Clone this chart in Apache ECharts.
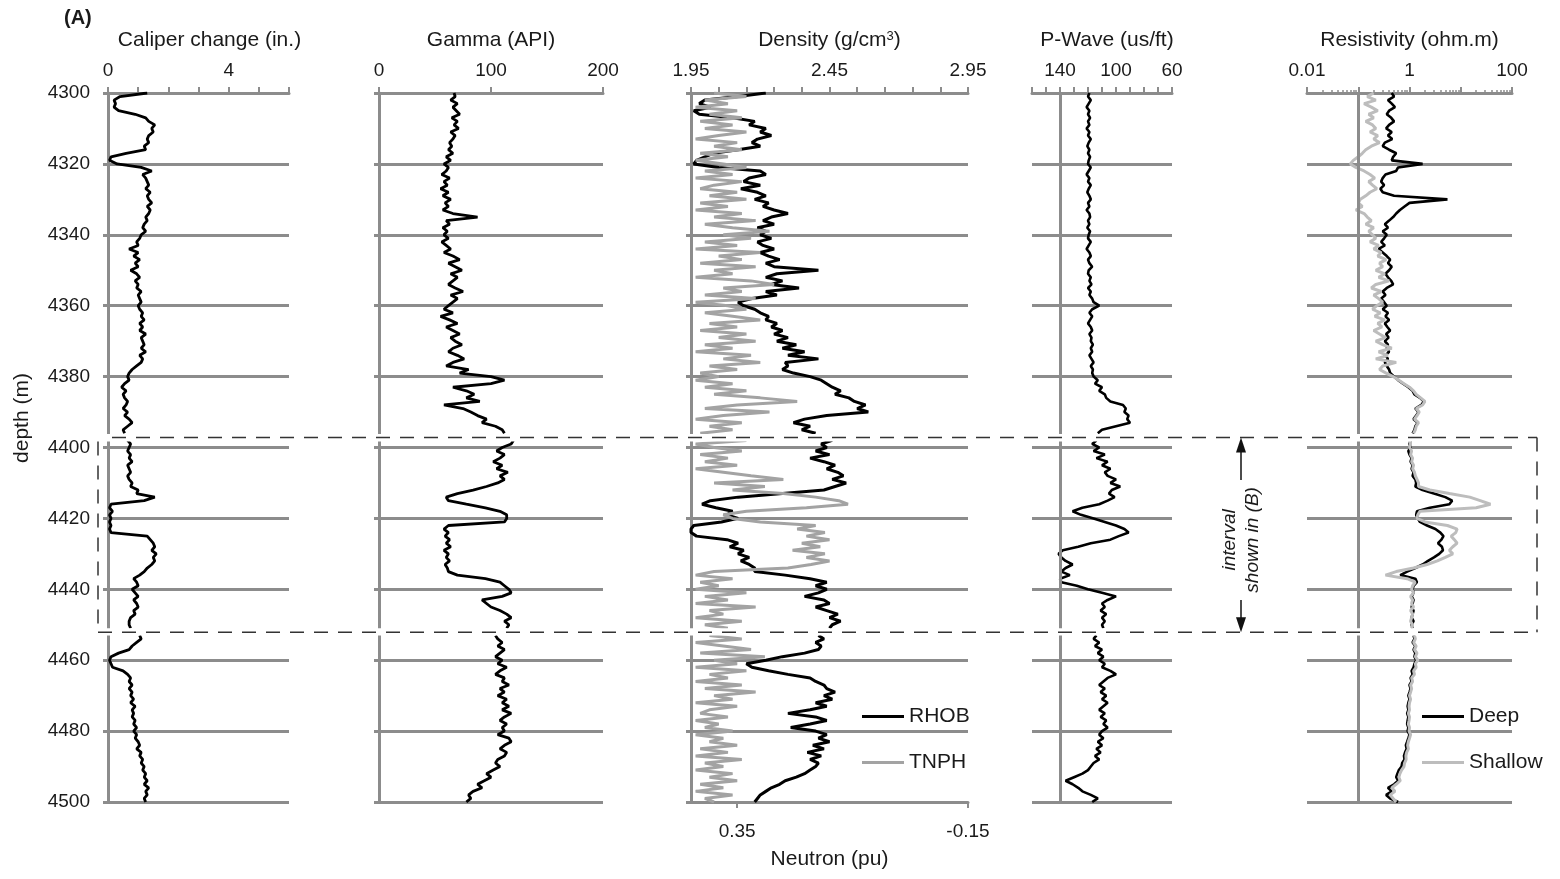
<!DOCTYPE html>
<html><head><meta charset="utf-8">
<script src="https://cdn.jsdelivr.net/npm/echarts@6/dist/echarts.min.js"></script>
<style>html,body{margin:0;padding:0;background:#fff}#c{width:1560px;height:879px}</style>
</head><body><div id="c"></div>
<script>
// ---------------- DATA ----------------
const DEPTH_TOP = 4300;   // first sample depth (m)
const DEPTH_STEP = 1;     // sample spacing (m)
const INTERVAL_TOP = 4397.2, INTERVAL_BOTTOM = 4452.1;  // interval shown in (B)
const GAPS = [[4396.2, 4398.3], [4451.0, 4453.0]];      // panel breaks

const caliper = [
1.3,0.4,0.2,0.25,0.2,0.35,0.9,1.25,1.35,1.55,
1.45,1.5,1.35,1.3,1.35,1.2,1.25,0.6,0.1,0.05,
0.3,1.1,1.45,1.15,1.25,1.3,1.35,1.25,1.4,1.3,
1.35,1.45,1.3,1.4,1.35,1.25,1.3,1.2,1.15,1.25,
1.1,1.05,0.95,1.0,0.7,1.0,0.85,1.05,0.9,1.0,
0.75,0.95,1.05,0.9,1.0,0.95,1.1,1.0,1.05,1.1,
1.0,1.05,1.15,1.1,1.2,1.05,1.15,1.05,1.25,1.1,
1.15,1.2,1.1,1.25,1.05,1.15,1.1,0.95,0.8,0.7,
0.65,0.7,0.55,0.45,0.6,0.5,0.55,0.65,0.6,0.5,
0.65,0.55,0.7,0.8,0.65,0.5,0.55,null,0.65,0.75,
0.7,0.65,0.75,0.7,0.8,0.65,0.7,0.75,0.65,0.7,
0.8,0.75,1.0,0.95,1.55,1.2,0.1,0.05,0.15,0.05,
0.1,0.05,0.1,0.05,0.1,1.3,1.4,1.5,1.55,1.45,
1.6,1.5,1.55,1.45,1.3,1.2,1.05,0.85,0.95,1.0,
0.8,0.9,1.0,0.85,0.95,1.0,0.85,0.9,0.75,0.7,
0.7,0.75,null,1.05,1.1,0.95,0.8,0.7,0.35,0.1,
0.05,0.1,0.15,0.5,0.65,0.75,0.7,0.8,0.7,0.8,
0.75,0.85,0.75,0.9,0.8,0.85,0.8,0.9,0.85,0.95,
0.85,0.95,0.9,1.0,1.05,0.95,1.1,1.05,1.15,1.1,
1.2,1.15,1.25,1.2,1.3,1.2,1.35,1.25,1.3,1.2,
1.25];

const gamma = [
67,68,64,70,66,69,72,65,70,67,
71,64,68,66,63,65,62,66,60,64,
58,62,60,56,63,58,61,55,62,57,
64,59,62,57,66,88,60,63,57,61,
58,62,56,60,64,58,66,72,62,68,
74,64,70,66,62,68,75,64,70,66,
62,58,66,55,63,70,60,66,72,64,
68,74,66,62,70,76,66,60,80,72,
100,112,100,66,78,85,78,90,58,75,
82,88,96,92,104,110,112,null,120,118,
110,105,112,108,102,110,105,115,108,112,
106,96,84,70,60,62,78,95,108,114,
114,112,62,58,62,59,63,60,64,58,
62,60,63,59,61,62,70,95,108,112,
116,118,110,92,96,100,108,114,118,112,
116,114,null,104,106,110,106,112,108,104,
110,106,114,108,104,112,110,116,108,112,
106,114,110,116,110,118,112,108,114,110,
112,106,116,118,112,108,114,112,106,104,
108,102,96,100,94,88,92,84,80,82,
78];

const rhob = [
2.22,2.12,2.00,1.98,2.02,1.96,1.98,2.10,2.18,2.16,
2.22,2.20,2.24,2.19,2.17,2.20,2.12,2.03,2.00,1.97,
1.96,2.05,2.20,2.22,2.16,2.14,2.20,2.13,2.19,2.22,
2.18,2.23,2.21,2.25,2.30,2.24,2.21,2.25,2.19,2.22,
2.20,2.24,2.19,2.21,2.25,2.20,2.23,2.27,2.22,2.25,
2.41,2.26,2.22,2.28,2.24,2.34,2.22,2.26,2.17,2.12,
2.14,2.18,2.20,2.23,2.22,2.26,2.24,2.28,2.25,2.30,
2.26,2.33,2.28,2.36,2.30,2.41,2.29,2.30,2.28,2.32,
2.38,2.42,2.44,2.46,2.49,2.47,2.52,2.54,2.58,2.55,
2.59,2.44,2.36,2.32,2.38,2.35,2.40,null,2.46,2.42,
2.44,2.40,2.45,2.38,2.43,2.47,2.44,2.48,2.50,2.46,
2.51,2.47,2.43,2.28,2.12,2.02,1.99,2.04,2.10,2.08,
2.12,2.06,1.96,1.95,1.95,1.97,2.08,2.12,2.09,2.14,
2.12,2.16,2.13,2.16,2.18,2.18,2.29,2.38,2.44,2.40,
2.44,2.41,2.36,2.43,2.45,2.40,2.44,2.48,2.45,2.49,
2.46,2.45,null,2.41,2.43,2.40,2.42,2.41,2.36,2.28,
2.22,2.15,2.17,2.23,2.30,2.38,2.40,2.43,2.44,2.47,
2.43,2.46,2.40,2.44,2.38,2.30,2.40,2.44,2.38,2.31,
2.40,2.44,2.41,2.45,2.39,2.43,2.37,2.42,2.38,2.41,
2.40,2.38,2.36,2.33,2.29,2.27,2.24,2.22,2.20,2.19,
2.18];

const tnph = [
0.40,0.33,0.42,0.37,0.44,0.35,0.41,0.34,0.43,0.36,
0.42,0.33,0.39,0.44,0.35,0.40,0.34,0.43,0.37,0.44,
0.38,0.33,0.42,0.36,0.44,0.34,0.40,0.43,0.35,0.41,
0.33,0.43,0.37,0.44,0.34,0.40,0.31,0.42,0.36,0.28,
0.38,0.32,0.42,0.35,0.44,0.30,0.39,0.34,0.43,0.31,
0.40,0.36,0.44,0.32,0.27,0.38,0.34,0.42,0.31,0.44,
0.37,0.33,0.42,0.36,0.30,0.41,0.35,0.43,0.33,0.39,
0.31,0.42,0.36,0.44,0.32,0.38,0.30,0.41,0.35,0.43,
0.39,0.44,0.36,0.42,0.33,0.40,0.30,0.22,0.35,0.42,
0.28,0.38,0.44,0.34,0.41,0.36,0.43,null,0.33,0.44,
0.40,0.34,0.43,0.37,0.42,0.35,0.44,0.38,0.32,0.25,
0.40,0.29,0.36,0.25,0.18,0.13,0.11,0.20,0.33,0.38,
0.36,0.30,0.18,0.22,0.16,0.20,0.15,0.21,0.17,0.23,
0.16,0.20,0.15,0.19,0.24,0.40,0.44,0.36,0.43,0.39,
0.44,0.33,0.42,0.37,0.44,0.31,0.41,0.38,0.44,0.34,
0.42,0.37,null,0.41,0.34,0.44,0.38,0.32,0.43,0.29,
0.40,0.35,0.44,0.33,0.41,0.37,0.44,0.34,0.42,0.31,
0.40,0.36,0.44,0.35,0.41,0.43,0.37,0.44,0.39,0.42,
0.36,0.44,0.38,0.41,0.35,0.43,0.37,0.44,0.34,0.42,
0.38,0.44,0.36,0.41,0.35,0.43,0.38,0.44,0.36,0.42,
0.40];

const pwave = [
119,120,118,119.5,121,119,120,118.5,120,119,
121,119,120,118,119.5,120.5,119,120,118.5,119.5,
120,118,119.5,121,119,120,118,119.5,120.5,119,
118,120,119,121,119,118.5,120,119,120.5,118.5,
119.5,120,118,119.5,121,119,118,120,119,117,
119.5,120,118,119,117.5,120,118,119,117,116,
112,117,119,117,118.5,120,118,117,119,117.5,
118,116.5,118,117,119,117.5,116,118,116.5,117,
116,113,115,110,112,108,107,104,95,93,
94,91,92,90,100,110,113,null,114,117,
112,116,108,114,106,110,104,108,106,100,
104,97,103,105,101,106,112,124,131,125,
116,108,100,94,91,98,104,118,127,138,
141,139,136,131,136,139,133,140,139,128,
120,110,100,106,110,108,111,107,110,108,
110,109,null,114,116,112,115,110,113,109,
112,108,110,104,100,106,109,112,108,111,
107,110,106,109,112,108,111,107,109,106,
110,112,109,113,110,114,111,115,112,116,
118,120,124,130,136,131,127,124,118,113,
117];

const resDeep = [
0.45,0.50,0.38,0.45,0.52,0.40,0.36,0.44,0.50,0.40,
0.35,0.45,0.38,0.46,0.33,0.30,0.40,0.55,0.48,0.45,
1.8,0.60,0.55,0.34,0.30,0.28,0.32,0.27,0.30,0.50,
5.5,1.0,0.80,0.65,0.55,0.48,0.40,0.33,0.38,0.30,
0.36,0.32,0.28,0.33,0.25,0.30,0.36,0.42,0.38,0.45,
0.40,0.34,0.38,0.44,0.48,0.36,0.30,0.34,0.28,0.32,
0.36,0.30,0.38,0.34,0.40,0.33,0.37,0.42,0.35,0.39,
0.33,0.38,0.36,0.40,0.34,0.38,0.33,0.36,0.40,0.42,
0.50,0.60,0.75,0.95,1.15,1.25,1.6,1.9,1.7,1.3,
1.5,1.35,1.2,1.45,1.3,1.25,1.15,null,1.05,1.0,
1.05,0.95,1.0,1.1,1.05,1.15,1.1,1.2,1.15,1.3,
1.35,1.3,1.8,3.0,5.0,6.8,6.0,2.5,1.4,1.35,
1.45,1.6,2.2,3.2,4.0,4.6,4.2,3.6,4.3,4.5,
3.8,3.0,2.3,1.8,1.3,0.9,0.66,1.3,1.4,1.2,
1.15,1.2,1.1,1.2,1.15,1.1,1.2,1.15,1.1,1.2,
1.1,1.15,null,1.2,1.25,1.15,1.3,1.2,1.3,1.25,
1.35,1.25,1.2,1.1,1.15,1.05,1.1,1.0,1.05,1.0,
0.95,1.0,0.95,0.92,0.95,0.9,0.95,0.92,0.9,0.95,
0.92,1.0,0.95,0.9,0.85,0.88,0.82,0.78,0.8,0.72,
0.7,0.62,0.58,0.55,0.6,0.5,0.38,0.45,0.35,0.42,
0.6];

const resShallow = [
0.20,0.15,0.22,0.13,0.18,0.24,0.16,0.20,0.14,0.19,
0.22,0.17,0.24,0.20,0.26,0.18,0.14,0.12,0.10,0.08,
0.07,0.09,0.13,0.17,0.21,0.16,0.19,0.23,0.17,0.14,
0.11,0.10,0.12,0.09,0.13,0.15,0.18,0.14,0.20,0.16,
0.19,0.22,0.17,0.25,0.20,0.28,0.24,0.35,0.26,0.30,
0.22,0.33,0.25,0.40,0.22,0.18,0.28,0.20,0.25,0.30,
0.23,0.19,0.27,0.21,0.33,0.24,0.29,0.20,0.26,0.34,
0.22,0.30,0.45,0.25,0.38,0.22,0.55,0.30,0.26,0.35,
0.48,0.62,0.78,1.0,1.2,1.35,1.65,2.0,1.8,1.35,
1.55,1.4,1.25,1.5,1.35,1.3,1.2,null,1.0,1.05,
1.0,1.1,1.05,1.15,1.1,1.2,1.15,1.25,1.3,1.4,
1.5,1.5,2.5,6,15,24,38,20,1.6,1.45,
1.4,2.0,5.5,8.5,8.0,6.5,7.5,8.5,7.0,6.0,
7.0,5.0,3.5,2.2,1.2,0.55,0.34,0.9,1.3,1.15,
1.1,1.2,1.05,1.15,1.1,1.2,1.05,1.15,1.1,1.05,
1.15,1.1,null,1.25,1.3,1.2,1.35,1.25,1.4,1.3,
1.45,1.3,1.35,1.2,1.25,1.1,1.15,1.05,1.1,1.05,
1.0,1.05,1.0,0.98,1.0,0.95,1.0,0.98,0.95,1.0,
0.98,1.05,1.0,0.95,0.92,0.95,0.88,0.85,0.86,0.8,
0.78,0.7,0.65,0.62,0.66,0.55,0.45,0.52,0.42,0.48,
0.55];

// axis tick / label values
const caliperLabels = [0, 4];
const caliperTicks = [0, 1, 2, 3, 4, 5, 6];
const gammaLabels = [0, 100, 200];
const densityLabels = [1.95, 2.45, 2.95];
const densityTicks = [1.95, 2.05, 2.15, 2.25, 2.35, 2.45, 2.55, 2.65, 2.75, 2.85, 2.95];
const neutronLabels = [0.35, -0.15];
const pwaveLabels = [140, 100, 60];
const pwaveTicks = [160, 150, 140, 130, 120, 110, 100, 90, 80, 70, 60];
const resLabels = [0.01, 1, 100];
const resMinorMultipliers = [2, 3, 4, 5, 6, 7, 8, 9];
const resDecades = [-2, -1, 0, 1];

// ---------------- CHART ----------------
const GREY = '#8c8c8c';
const FONT = 'Liberation Sans, Arial, Helvetica, sans-serif';
const TICK = {fontFamily: FONT, fontSize: 19, color: '#1a1a1a'};
const TITLE = {fontFamily: FONT, fontSize: 21, color: '#1a1a1a'};
const tracks = [
  {left: 108, width: 181},
  {left: 379, width: 224},
  {left: 691, width: 277},
  {left: 1032, width: 140},
  {left: 1307, width: 205}
];
const TOP = 93, BOTTOM = 77;

function pairs(vals) { return vals.map((v, i) => [v, DEPTH_TOP + i * DEPTH_STEP]); }

function topAxis(gi, o) {
  return Object.assign({
    gridIndex: gi, type: 'value', position: 'top',
    nameLocation: 'middle', nameGap: 42, nameTextStyle: TITLE,
    axisLine: {show: true, onZero: false, lineStyle: {color: GREY, width: 3}},
    splitLine: {show: false}
  }, o);
}
const tick = (vals, len) => ({show: true, inside: false, length: len || 6, customValues: vals, lineStyle: {color: GREY, width: 2}});
const lab = (vals, extra) => Object.assign({margin: 13, customValues: vals}, TICK, extra || {});

const xAxis = [
  topAxis(0, {min: 0, max: 6, name: 'Caliper change (in.)',
    nameTextStyle: Object.assign({padding: [0, 0, 0, 22]}, TITLE),
    axisTick: tick(caliperTicks), axisLabel: lab(caliperLabels)}),
  topAxis(1, {min: 0, max: 200, name: 'Gamma (API)',
    axisTick: tick(gammaLabels), axisLabel: lab(gammaLabels)}),
  topAxis(2, {min: 1.95, max: 2.95, name: 'Density (g/cm{sup|3})',
    nameTextStyle: Object.assign({rich: {sup: {fontFamily: FONT, fontSize: 13, color: '#1a1a1a', verticalAlign: 'top', lineHeight: 14}}}, TITLE),
    axisTick: tick(densityTicks), axisLabel: lab(densityLabels, {formatter: v => (+v).toFixed(2)})}),
  {gridIndex: 2, type: 'value', position: 'bottom', inverse: true, min: -0.15, max: 0.45,
    name: 'Neutron (pu)', nameLocation: 'middle', nameGap: 47, nameTextStyle: TITLE,
    axisLine: {show: true, onZero: false, lineStyle: {color: GREY, width: 3}},
    axisTick: tick(neutronLabels),
    axisLabel: Object.assign({margin: 20, customValues: neutronLabels, formatter: v => (+v).toFixed(2)}, TICK),
    splitLine: {show: false}},
  topAxis(3, {min: 60, max: 160, inverse: true, name: 'P-Wave (us/ft)',
    nameTextStyle: Object.assign({padding: [0, 0, 0, 10]}, TITLE),
    axisTick: tick(pwaveTicks), axisLabel: lab(pwaveLabels)}),
  topAxis(4, {type: 'log', logBase: 10, min: 0.01, max: 100, name: 'Resistivity (ohm.m)',
    axisTick: {show: true, length: 6, interval: 0, lineStyle: {color: GREY, width: 2}},
    axisLabel: Object.assign({margin: 13, interval: 0,
      formatter: v => resLabels.some(r => Math.abs(Math.log10(r) - Math.log10(+v)) < 1e-6) ? String(+(+v).toPrecision(3)) : ''}, TICK)}),
  {gridIndex: 4, type: 'value', position: 'top', min: -2, max: 2,
    axisLine: {show: false}, axisLabel: {show: false}, splitLine: {show: false},
    axisTick: {show: true, length: 3,
      customValues: resDecades.flatMap(d => resMinorMultipliers.map(k => d + Math.log10(k))),
      lineStyle: {color: GREY, width: 1.5}}}
];

const yAxis = tracks.map((t, i) => ({
  gridIndex: i, type: 'value', inverse: true, min: 4300, max: 4500, interval: 20,
  axisLine: {show: i < 3, onZero: false, lineStyle: {color: GREY, width: 3}},
  axisTick: {show: i < 3, length: 5, lineStyle: {color: GREY, width: 3}},
  axisLabel: Object.assign({show: i === 0, margin: 18, formatter: v => String(v)}, TICK),
  splitLine: {show: true, lineStyle: {color: GREY, width: 3}}
}));

function lineSeries(name, xi, yi, vals, color, width, extra) {
  return Object.assign({
    name, type: 'line', xAxisIndex: xi, yAxisIndex: yi, data: pairs(vals),
    color, symbol: 'none', showSymbol: false, connectNulls: false,
    lineStyle: {color, width}, animation: false, silent: true
  }, extra || {});
}
const vline = v => ({silent: true, symbol: ['none', 'none'], label: {show: false},
  lineStyle: {color: GREY, width: 3, type: 'solid'}, data: [{xAxis: v}], animation: false});

const series = [
  lineSeries('Caliper', 0, 0, caliper, '#000', 2.8),
  lineSeries('Gamma', 1, 1, gamma, '#000', 2.8),
  lineSeries('RHOB', 2, 2, rhob, '#000', 3),
  lineSeries('TNPH', 3, 2, tnph, '#a3a3a3', 3),
  lineSeries('P-Wave', 4, 3, pwave, '#000', 2.6, {markLine: vline(140)}),
  lineSeries('Deep', 5, 4, resDeep, '#000', 2.6, {markLine: vline(0.1)}),
  lineSeries('Shallow', 5, 4, resShallow, '#bdbdbd', 3)
];

const legendBase = {orient: 'vertical', itemWidth: 42, itemHeight: 3, itemGap: 25, icon: 'rect',
  selectedMode: false, textStyle: TITLE, padding: 0};

const chart = echarts.init(document.getElementById('c'), null, {renderer: 'canvas'});
chart.setOption({
  animation: false,
  backgroundColor: '#fff',
  grid: tracks.map(t => ({left: t.left, width: t.width, top: TOP, bottom: BOTTOM, containLabel: false, outerBoundsMode: 'none'})),
  xAxis, yAxis, series,
  legend: [
    Object.assign({data: ['RHOB', 'TNPH'], left: 862, top: 706}, legendBase),
    Object.assign({data: ['Deep', 'Shallow'], left: 1422, top: 706}, legendBase)
  ]
});

// ---------------- OVERLAY (panel breaks, interval box, annotations) ----------------
const yOf = d => chart.convertToPixel({yAxisIndex: 0}, d);
const els = [];
tracks.forEach(t => GAPS.forEach(g => {
  const y1 = yOf(g[0]), y2 = yOf(g[1]);
  els.push({type: 'rect', z: 50, silent: true, shape: {x: t.left - 8, y: y1, width: t.width + 12, height: y2 - y1}, style: {fill: '#fff'}});
}));
const yT = yOf(INTERVAL_TOP), yB = yOf(INTERVAL_BOTTOM);
const BOX_L = 98, BOX_R = 1537, ARROW_X = 1241;
const dash = {stroke: '#333', lineWidth: 1.5, lineDash: [14, 10]};
[[112, yT, BOX_R, yT], [BOX_L, yB, BOX_R, yB], [BOX_R, yT, BOX_R, yB], [BOX_L, yT + 4, BOX_L, yB]].forEach(s => {
  els.push({type: 'line', z: 60, silent: true, shape: {x1: s[0], y1: s[1], x2: s[2], y2: s[3]}, style: dash});
});
const mid = (yT + yB) / 2 + 5;
els.push({type: 'line', z: 60, silent: true, shape: {x1: ARROW_X, y1: yT + 10, x2: ARROW_X, y2: mid - 60}, style: {stroke: '#111', lineWidth: 1.5}});
els.push({type: 'line', z: 60, silent: true, shape: {x1: ARROW_X, y1: mid + 60, x2: ARROW_X, y2: yB - 10}, style: {stroke: '#111', lineWidth: 1.5}});
els.push({type: 'polygon', z: 60, silent: true, shape: {points: [[ARROW_X, yT], [ARROW_X - 5, yT + 15], [ARROW_X + 5, yT + 15]]}, style: {fill: '#111'}});
els.push({type: 'polygon', z: 60, silent: true, shape: {points: [[ARROW_X, yB], [ARROW_X - 5, yB - 15], [ARROW_X + 5, yB - 15]]}, style: {fill: '#111'}});
els.push({type: 'text', z: 60, silent: true, x: ARROW_X, y: mid, rotation: Math.PI / 2,
  style: {text: 'interval\nshown in (B)', fontFamily: FONT, fontSize: 19, fontStyle: 'italic', fill: '#1a1a1a', align: 'center', verticalAlign: 'middle', lineHeight: 23}});
els.push({type: 'text', z: 60, silent: true, x: 64, y: 18,
  style: {text: '(A)', fontFamily: FONT, fontSize: 20, fontWeight: 'bold', fill: '#1a1a1a', align: 'left', verticalAlign: 'middle'}});
els.push({type: 'text', z: 60, silent: true, x: 22, y: 418, rotation: Math.PI / 2,
  style: {text: 'depth (m)', fontFamily: FONT, fontSize: 21, fill: '#1a1a1a', align: 'center', verticalAlign: 'middle'}});
chart.setOption({graphic: {elements: els}});
</script>
</body></html>
